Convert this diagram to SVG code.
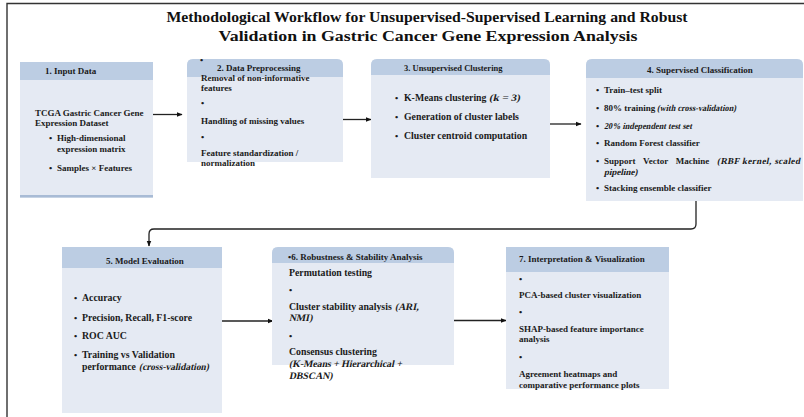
<svg xmlns="http://www.w3.org/2000/svg" width="804" height="417" viewBox="0 0 804 417">
  <style>
    text { font-family: "Liberation Serif", "Times New Roman", serif; fill: #1a1a1a; font-weight: bold; }
    .title { font-size: 15.5px; fill: #111; }
    .hd { font-size: 9px; }
    .tx { font-size: 9px; }
    .big { font-size: 9.8px; }
    .head { fill: #bccde3; }
    .body { fill: #e5eaf3; }
    .edge { fill: none; stroke: #222; stroke-width: 1.3; }
  </style>
  <defs>
    <marker id="arr" viewBox="0 0 10 10" refX="9" refY="5" markerWidth="6" markerHeight="6" orient="auto" markerUnits="userSpaceOnUse">
      <path d="M0,1 L10,5 L0,9 z" fill="#111"/>
    </marker>
  </defs>

  <rect width="804" height="417" fill="#ffffff"/>
  <!-- outer frame (top and left edges) -->
  <path d="M7,417 V3.5 H804" fill="none" stroke="#333" stroke-width="1.4"/>

  <g id="title">
    <text class="title" x="427" y="22" text-anchor="middle" textLength="521" lengthAdjust="spacingAndGlyphs">Methodological Workflow for Unsupervised-Supervised Learning and Robust</text>
    <text class="title" x="428" y="41" text-anchor="middle" textLength="419" lengthAdjust="spacingAndGlyphs">Validation in Gastric Cancer Gene Expression Analysis</text>
  </g>

  <g id="connectors">
    <line class="edge" x1="153" y1="114.5" x2="182" y2="114.5" marker-end="url(#arr)" stroke-width="1"/>
    <line class="edge" x1="343" y1="119.5" x2="371" y2="119.5" marker-end="url(#arr)"/>
    <line class="edge" x1="550" y1="124" x2="581" y2="124" marker-end="url(#arr)"/>
    <path class="edge" d="M696,201 V224 Q696,229 691,229 H154 Q149,229 149,234 V246" marker-end="url(#arr)" stroke-width="1"/>
    <line class="edge" x1="222" y1="321" x2="273" y2="321" marker-end="url(#arr)" stroke-width="1.8"/>
    <line class="edge" x1="454" y1="320.5" x2="506" y2="320.5" marker-end="url(#arr)" stroke-width="1.8"/>
  </g>

  <g id="node1">
    <rect class="body" x="20" y="62" width="133" height="136"/>
    <rect class="head" x="20" y="62" width="133" height="18"/>
    <rect x="20" y="195" width="133" height="2.5" fill="#a8bbd5"/>
    <text class="hd" x="45" y="74">1. Input Data</text>
    <text class="tx" x="35" y="116">TCGA Gastric Cancer Gene</text>
    <text class="tx" x="35" y="126">Expression Dataset</text>
    <text class="tx" x="49" y="141">•</text>
    <text class="tx" x="57" y="141">High-dimensional</text>
    <text class="tx" x="57" y="152">expression matrix</text>
    <text class="tx" x="49" y="171">•</text>
    <text class="tx" x="57" y="171">Samples × Features</text>
  </g>

  <g id="node2">
    <path class="body" d="M187,162 V65 Q187,59 193,59 H337 Q343,59 343,65 V162 Z"/>
    <path class="head" d="M187,77 V65 Q187,59 193,59 H337 Q343,59 343,65 V77 Z"/>
    <text class="tx" x="200" y="63">•</text>
    <text class="hd" x="217" y="71">2. Data Preprocessing</text>
    <text class="tx" x="201" y="81">Removal of non-informative</text>
    <text class="tx" x="201" y="91">features</text>
    <text class="tx" x="201" y="106">•</text>
    <text class="tx" x="201" y="124">Handling of missing values</text>
    <text class="tx" x="201" y="140">•</text>
    <text class="tx" x="201" y="156">Feature standardization /</text>
    <text class="tx" x="201" y="166">normalization</text>
  </g>

  <g id="node3">
    <path class="body" d="M371,178 V65 Q371,59 377,59 H544 Q550,59 550,65 V178 Z"/>
    <path class="head" d="M371,75 V65 Q371,59 377,59 H544 Q550,59 550,65 V75 Z"/>
    <text class="hd" x="404" y="71" style="font-size:8.5px">3. Unsupervised Clustering</text>
    <text class="tx" x="395" y="101">•</text>
    <text class="big" x="404" y="101">K-Means clustering</text>
    <text class="big" transform="translate(489,101) skewX(-12)" textLength="31" lengthAdjust="spacingAndGlyphs">(k = 3)</text>
    <text class="tx" x="395" y="120">•</text>
    <text class="big" x="404" y="120">Generation of cluster labels</text>
    <text class="tx" x="395" y="139">•</text>
    <text class="big" x="404" y="139">Cluster centroid computation</text>
  </g>

  <g id="node4">
    <path class="body" d="M586,201 V65 Q586,59 592,59 H797 Q803,59 803,65 V201 Z"/>
    <path class="head" d="M586,78 V65 Q586,59 592,59 H797 Q803,59 803,65 V78 Z"/>
    <text class="hd" x="647" y="73">4. Supervised Classification</text>
    <text class="tx" x="596" y="93">•</text>
    <text class="tx" x="604" y="93">Train–test split</text>
    <text class="tx" x="596" y="111">•</text>
    <text class="tx" x="604" y="111">80% training</text>
    <text class="tx" transform="translate(657,111) skewX(-12)" textLength="79" lengthAdjust="spacingAndGlyphs">(with cross-validation)</text>
    <text class="tx" x="596" y="129">•</text>
    <text class="tx" transform="translate(604,129) skewX(-12)" textLength="88" lengthAdjust="spacingAndGlyphs">20% independent test set</text>
    <text class="tx" x="596" y="146">•</text>
    <text class="tx" x="604" y="146">Random Forest classifier</text>
    <text class="tx" x="596" y="164">•</text>
    <text class="tx" x="604" y="164" word-spacing="5.5">Support Vector Machine</text>
    <text class="tx" transform="translate(717,164) skewX(-12)" textLength="83" lengthAdjust="spacing">(RBF kernel, scaled</text>
    <text class="tx" transform="translate(604,175) skewX(-12)">pipeline)</text>
    <text class="tx" x="596" y="191">•</text>
    <text class="tx" x="604" y="191">Stacking ensemble classifier</text>
  </g>

  <g id="node5">
    <rect class="body" x="62" y="247" width="160" height="166"/>
    <rect class="head" x="62" y="247" width="160" height="21"/>
    <text class="hd" x="106" y="264">5. Model Evaluation</text>
    <text class="tx" x="74" y="301">•</text>
    <text class="big" x="82" y="301">Accuracy</text>
    <text class="tx" x="74" y="321">•</text>
    <text class="big" x="82" y="321">Precision, Recall, F1-score</text>
    <text class="tx" x="74" y="339">•</text>
    <text class="big" x="82" y="339">ROC AUC</text>
    <text class="tx" x="74" y="358">•</text>
    <text class="big" x="82" y="358">Training vs Validation</text>
    <text class="big" x="82" y="370">performance</text>
    <text class="big" transform="translate(139,370) skewX(-12)" textLength="70" lengthAdjust="spacingAndGlyphs">(cross-validation)</text>
  </g>

  <g id="node6">
    <path class="body" d="M272,365 V253 Q272,247 278,247 H448 Q454,247 454,253 V365 Z"/>
    <path class="head" d="M272,263 V253 Q272,247 278,247 H448 Q454,247 454,253 V263 Z"/>
    <text class="hd" x="288" y="260">•6. Robustness &amp; Stability Analysis</text>
    <text class="big" x="289" y="276">Permutation testing</text>
    <text class="tx" x="289" y="293">•</text>
    <text class="big" x="289" y="310">Cluster stability analysis</text>
    <text class="big" transform="translate(395,310) skewX(-12)">(ARI,</text>
    <text class="big" transform="translate(289,321) skewX(-12)">NMI)</text>
    <text class="tx" x="289" y="339">•</text>
    <text class="big" x="289" y="355">Consensus clustering</text>
    <text class="big" transform="translate(289,367) skewX(-12)" textLength="113" lengthAdjust="spacingAndGlyphs">(K-Means + Hierarchical +</text>
    <text class="big" transform="translate(289,379) skewX(-12)">DBSCAN)</text>
  </g>

  <g id="node7">
    <rect class="body" x="506" y="247" width="163" height="142"/>
    <rect class="head" x="506" y="247" width="163" height="25"/>
    <text class="hd" x="519" y="262">7. Interpretation &amp; Visualization</text>
    <text class="tx" x="519" y="282">•</text>
    <text class="tx" x="519" y="298">PCA-based cluster visualization</text>
    <text class="tx" x="519" y="315">•</text>
    <text class="tx" x="519" y="332">SHAP-based feature importance</text>
    <text class="tx" x="519" y="342">analysis</text>
    <text class="tx" x="519" y="360">•</text>
    <text class="tx" x="519" y="377">Agreement heatmaps and</text>
    <text class="tx" x="519" y="388">comparative performance plots</text>
  </g>
</svg>
